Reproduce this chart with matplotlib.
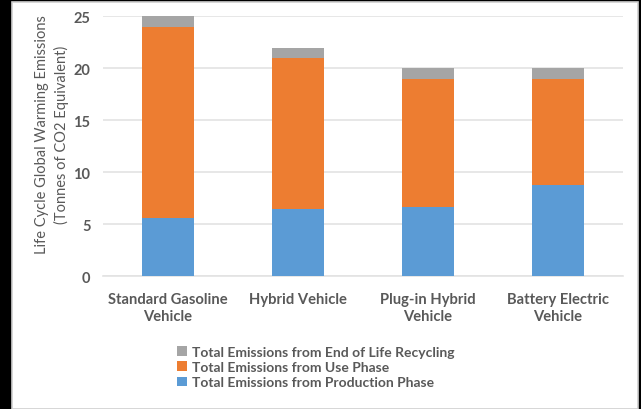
import matplotlib.pyplot as plt
from matplotlib.patches import Rectangle

# Data
vehicles = ['Standard Gasoline\nVehicle', 'Hybrid Vehicle', 'Plug-in Hybrid\nVehicle', 'Battery Electric\nVehicle']
production = [5.6, 6.5, 6.7, 8.8]
use_phase = [18.4, 14.5, 12.3, 10.2]
end_of_life = [1.0, 1.0, 1.0, 1.0]
yticks = [0, 5, 10, 15, 20, 25]

c_prod = '#5B9BD5'
c_use = '#ED7D31'
c_eol = '#A5A5A5'
txt = '#595959'

plt.rcParams['font.family'] = ['Lato', 'DejaVu Sans']

fig = plt.figure(figsize=(6.41, 4.10), dpi=100, facecolor='black')
# white chart area with light border (black strips at top/left/right like the screenshot)
fig.patches.append(Rectangle((12 / 641, 0), 626 / 641, 407 / 410, transform=fig.transFigure,
                             facecolor='white', edgecolor='#d0d0d0', linewidth=1.2, zorder=-10))

ax = fig.add_axes([103 / 641, 1 - 277.3 / 410, 520 / 641, 260 / 410])
ax.set_zorder(1)
ax.set_facecolor('white')

x = range(len(vehicles))
width = 0.395
bottom2 = [p + u for p, u in zip(production, use_phase)]
b1 = ax.bar(x, production, width, color=c_prod, label='Total Emissions from Production Phase', zorder=3)
b2 = ax.bar(x, use_phase, width, bottom=production, color=c_use, label='Total Emissions from Use Phase', zorder=3)
b3 = ax.bar(x, end_of_life, width, bottom=bottom2, color=c_eol, label='Total Emissions from End of Life Recycling', zorder=3)

ax.set_xlim(-0.5, len(vehicles) - 0.5)
ax.set_ylim(0, 25)
ax.set_yticks(yticks)
ax.set_xticks(list(x))
ax.set_xticklabels(vehicles, fontsize=10.6, fontweight='bold', color=txt, linespacing=1.3)
ax.tick_params(axis='y', labelsize=10.5, labelcolor=txt, length=0, pad=9)
ax.tick_params(axis='x', length=0, pad=11)
for lab in ax.get_yticklabels():
    lab.set_fontweight('bold')

ax.grid(axis='y', color='#e3e3e3', linewidth=1.2, zorder=0)
for s in ['top', 'right', 'left']:
    ax.spines[s].set_visible(False)
ax.spines['bottom'].set_color('#e3e3e3')
ax.spines['bottom'].set_linewidth(1.2)

ax.set_ylabel('Life Cycle Global Warming Emissions\n(Tonnes of CO2 Equivalent)',
              fontsize=10.5, color=txt, linespacing=1.4)
ax.yaxis.set_label_coords(-0.066, 0.548)

fig.legend([b3, b2, b1], [b3.get_label(), b2.get_label(), b1.get_label()],
           loc='center', bbox_to_anchor=(316 / 641, 1 - 368 / 410), frameon=False,
           prop={'size': 10, 'weight': 'bold'}, labelcolor=txt,
           handlelength=0.7, handleheight=0.7, handletextpad=0.4, labelspacing=0.25,
           borderpad=0)

plt.savefig('out.png', dpi=100, facecolor=fig.get_facecolor())
